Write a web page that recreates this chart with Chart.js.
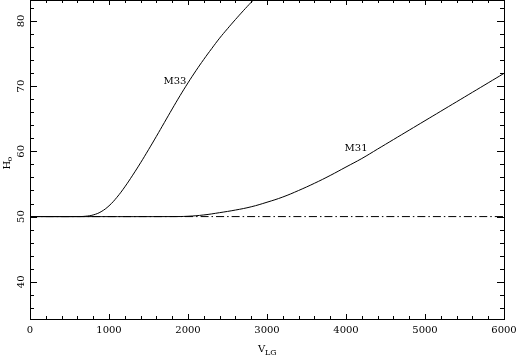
<!DOCTYPE html>
<html>
<head>
<meta charset="utf-8">
<script src="https://cdn.jsdelivr.net/npm/chart.js@4/dist/chart.umd.min.js"></script>
<style>
  html, body { margin: 0; padding: 0; background: #fff; }
  canvas { display: block; }
</style>
</head>
<body>
<canvas id="chart" width="517" height="359"></canvas>
<script>
// H_o against V_LG, two galaxies plus the flat 50 reference
const m33V = [0, 600, 700, 800, 900, 1000, 1100, 1200, 1300, 1400, 1500, 1600, 1700, 1800, 1900, 2000, 2100, 2200, 2300, 2400, 2500, 2600, 2700, 2800, 2900, 3000];
const m33H = [50, 50, 50.05, 50.25, 50.75, 51.65, 52.95, 54.55, 56.35, 58.25, 60.25, 62.3, 64.4, 66.5, 68.55, 70.5, 72.35, 74.1, 75.75, 77.35, 78.8, 80.2, 81.55, 82.85, 84.1, 85.3];

const m31V = [0, 1800, 2000, 2200, 2400, 2600, 2800, 3000, 3200, 3400, 3600, 3800, 4000, 4200, 4400, 4600, 4800, 5000, 5200, 5400, 5600, 5800, 6000];
const m31H = [50, 50, 50.05, 50.25, 50.6, 51.0, 51.5, 52.2, 53.0, 54.0, 55.1, 56.3, 57.6, 58.9, 60.35, 61.8, 63.25, 64.7, 66.15, 67.6, 69.05, 70.5, 71.95];

const refV = [0, 6000];
const refH = [50, 50];

const xTicks = [0, 1000, 2000, 3000, 4000, 5000, 6000];
const yTicks = [40, 50, 60, 70, 80];
const curveNames = ['M33', 'M31'];
const nameAt = [[1835, 70.7], [4127, 60.5]];

const pts = (xs, ys) => xs.map((x, i) => ({ x, y: ys[i] }));

const FONT = '10px "DejaVu Serif"';

// frame, inward ticks, tick labels and titles (pgplot look)
const frame = {
  id: 'frame',
  afterDatasetsDraw(chart) {
    const { ctx, chartArea: a, scales: { x, y } } = chart;
    ctx.save();
    ctx.strokeStyle = '#000';
    ctx.fillStyle = '#000';
    ctx.lineWidth = 1;
    ctx.strokeRect(a.left + 0.5, a.top + 0.5, a.right - a.left, a.bottom - a.top);

    ctx.beginPath();
    for (let v = 0; v <= 6000; v += 200) {
      const px = Math.round(x.getPixelForValue(v)) + 0.5;
      const len = v % 1000 === 0 ? 5 : 3;
      ctx.moveTo(px, a.bottom); ctx.lineTo(px, a.bottom - len);
      ctx.moveTo(px, a.top); ctx.lineTo(px, a.top + len);
    }
    for (let v = 36; v <= 82; v += 2) {
      const py = Math.round(y.getPixelForValue(v)) + 0.5;
      const len = v % 10 === 0 ? 7 : 4;
      ctx.moveTo(a.left, py); ctx.lineTo(a.left + len, py);
      ctx.moveTo(a.right, py); ctx.lineTo(a.right - len, py);
    }
    ctx.stroke();

    ctx.font = FONT;
    ctx.textAlign = 'center';
    ctx.textBaseline = 'middle';
    xTicks.forEach(v => ctx.fillText(String(v), x.getPixelForValue(v), a.bottom + 11));
    yTicks.forEach(v => {
      ctx.save();
      ctx.translate(a.left - 9, y.getPixelForValue(v));
      ctx.rotate(-Math.PI / 2);
      ctx.fillText(String(v), 0, 0);
      ctx.restore();
    });

    curveNames.forEach((n, i) => {
      ctx.fillText(n, x.getPixelForValue(nameAt[i][0]), y.getPixelForValue(nameAt[i][1]));
    });

    // V_LG
    const cx = (a.left + a.right) / 2;
    ctx.textAlign = 'left';
    ctx.fillText('V', cx - 9, a.bottom + 30);
    ctx.font = '8px "DejaVu Serif"';
    ctx.fillText('LG', cx - 2, a.bottom + 34);

    // H_o
    ctx.save();
    ctx.translate(a.left - 23, y.getPixelForValue(58));
    ctx.rotate(-Math.PI / 2);
    ctx.font = FONT;
    ctx.fillText('H', -5, 0);
    ctx.font = '8px "DejaVu Serif"';
    ctx.fillText('o', 3, 3);
    ctx.restore();
    ctx.restore();
  }
};

const line = (data, dash) => ({
  data,
  borderColor: '#000',
  borderWidth: 1,
  borderDash: dash || [],
  pointRadius: 0,
  tension: 0.4,
  fill: false
});

new Chart(document.getElementById('chart').getContext('2d'), {
  type: 'line',
  data: {
    datasets: [
      line(pts(refV, refH), [8, 3, 1.5, 3]),
      line(pts(m33V, m33H)),
      line(pts(m31V, m31H))
    ]
  },
  options: {
    responsive: false,
    animation: false,
    layout: { padding: { left: 30, right: 13, top: 0, bottom: 40 } },
    plugins: { legend: { display: false }, tooltip: { enabled: false } },
    scales: {
      x: { type: 'linear', min: 0, max: 6000, display: false },
      y: { type: 'linear', min: 34.3, max: 83.2, display: false }
    }
  },
  plugins: [frame]
});
</script>
</body>
</html>
